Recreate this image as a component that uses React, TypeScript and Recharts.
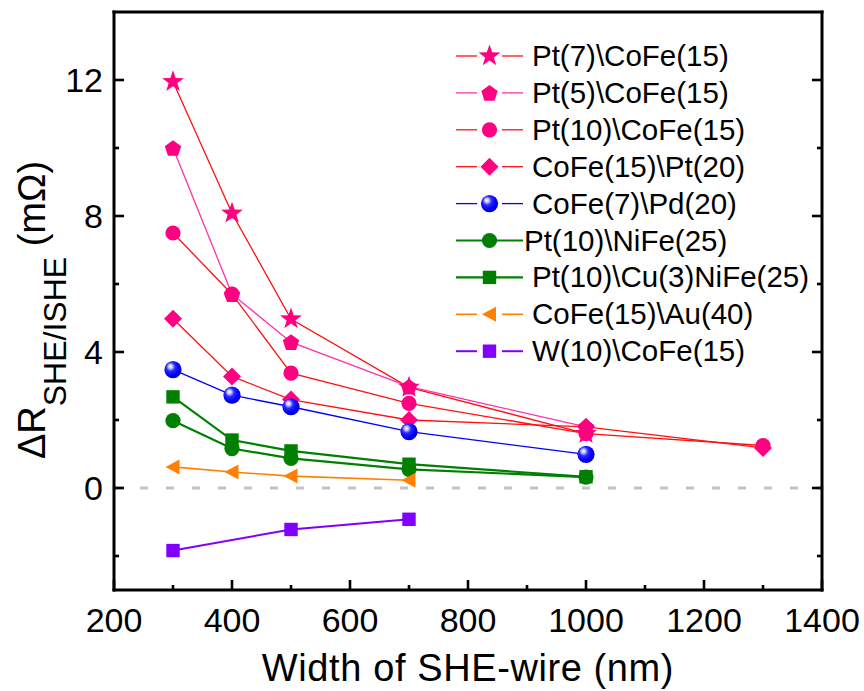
import { Line, LineChart, ReferenceLine, XAxis, YAxis } from 'recharts'

const FONT = '"Liberation Sans", Arial, sans-serif'

// widths of the SHE wire (nm)
const widths = [300, 400, 500, 700, 1000]
const widthsLong = [300, 400, 500, 700, 1000, 1300]
const widthsAu = [300, 400, 500, 700]
const widthsW = [300, 500, 700]

// ΔR values (mΩ)
const ptCoFe7 = [11.95, 8.08, 4.97, 2.96, 1.6]
const ptCoFe5 = [10.0, 5.7, 4.29, 2.98, 1.8]
const ptCoFe10 = [7.5, 5.7, 3.38, 2.49, 1.6, 1.25]
const coFePt20 = [4.98, 3.28, 2.6, 2.0, 1.8, 1.18]
const coFePd20 = [3.48, 2.73, 2.39, 1.66, 0.99]
const ptNiFe = [1.98, 1.16, 0.87, 0.55, 0.32]
const ptCuNiFe = [2.68, 1.41, 1.09, 0.7, 0.33]
const coFeAu = [0.62, 0.47, 0.35, 0.23]
const wCoFe = [-1.84, -1.22, -0.92]

const xTicks = [200, 300, 400, 500, 600, 700, 800, 900, 1000, 1100, 1200, 1300, 1400]
const yTicks = [-2, 0, 2, 4, 6, 8, 10, 12]

type Shape = 'star' | 'pentagon' | 'circle' | 'diamond' | 'sphere' | 'triangle' | 'square'

const series: Array<{
  name: string
  xs: number[]
  ys: number[]
  shape: Shape
  fill: string
  stroke: string
  width: number
}> = [
  { name: 'Pt(7)\\CoFe(15)', xs: widths, ys: ptCoFe7, shape: 'star', fill: '#ff0080', stroke: '#ff1010', width: 1.3 },
  { name: 'Pt(5)\\CoFe(15)', xs: widths, ys: ptCoFe5, shape: 'pentagon', fill: '#ff0080', stroke: '#ff30a8', width: 1.3 },
  { name: 'Pt(10)\\CoFe(15)', xs: widthsLong, ys: ptCoFe10, shape: 'circle', fill: '#ff0080', stroke: '#ff1010', width: 1.3 },
  { name: 'CoFe(15)\\Pt(20)', xs: widthsLong, ys: coFePt20, shape: 'diamond', fill: '#ff0080', stroke: '#ff1010', width: 1.3 },
  { name: 'CoFe(7)\\Pd(20)', xs: widths, ys: coFePd20, shape: 'sphere', fill: '#0000ff', stroke: '#0000ff', width: 1.3 },
  { name: 'Pt(10)\\NiFe(25)', xs: widths, ys: ptNiFe, shape: 'circle', fill: '#008000', stroke: '#008000', width: 2.2 },
  { name: 'Pt(10)\\Cu(3)NiFe(25)', xs: widths, ys: ptCuNiFe, shape: 'square', fill: '#008000', stroke: '#008000', width: 2.2 },
  { name: 'CoFe(15)\\Au(40)', xs: widthsAu, ys: coFeAu, shape: 'triangle', fill: '#ff8000', stroke: '#ff8000', width: 1.6 },
  { name: 'W(10)\\CoFe(15)', xs: widthsW, ys: wCoFe, shape: 'square', fill: '#8000ff', stroke: '#8000ff', width: 2 },
]

function polygon(cx: number, cy: number, n: number, rOuter: number, rInner?: number) {
  const pts: string[] = []
  const count = rInner ? n * 2 : n
  for (let i = 0; i < count; i++) {
    const r = rInner && i % 2 === 1 ? rInner : rOuter
    const a = -Math.PI / 2 + (i * 2 * Math.PI) / count
    pts.push(`${(cx + r * Math.cos(a)).toFixed(2)},${(cy + r * Math.sin(a)).toFixed(2)}`)
  }
  return pts.join(' ')
}

function Marker({ shape, cx, cy, fill }: { shape: Shape; cx: number; cy: number; fill: string }) {
  switch (shape) {
    case 'star':
      return <polygon points={polygon(cx, cy, 5, 11.5, 4.6)} fill={fill} />
    case 'pentagon':
      return <polygon points={polygon(cx, cy + 0.8, 5, 8.6)} fill={fill} />
    case 'circle':
      return <circle cx={cx} cy={cy} r={7.6} fill={fill} />
    case 'diamond':
      return <polygon points={`${cx},${cy - 9} ${cx + 9},${cy} ${cx},${cy + 9} ${cx - 9},${cy}`} fill={fill} />
    case 'sphere':
      return <circle cx={cx} cy={cy} r={8.6} fill="url(#blueSphere)" />
    case 'triangle':
      return <polygon points={`${cx - 7.5},${cy} ${cx + 6.5},${cy - 7.5} ${cx + 6.5},${cy + 7.5}`} fill={fill} />
    case 'square':
      return <rect x={cx - 6.7} y={cy - 6.7} width={13.4} height={13.4} fill={fill} />
  }
}

function BottomTick(p: any) {
  const major = p.payload.value % 200 === 0
  return (
    <g>
      <line x1={p.x} x2={p.x} y1={p.y} y2={p.y - (major ? 10 : 5)} stroke="#000" strokeWidth={2.6} />
      {major && (
        <text x={p.x} y={p.y + 42} textAnchor="middle" fontSize={34} fontFamily={FONT} fill="#000">
          {p.payload.value}
        </text>
      )}
    </g>
  )
}

function TopTick(p: any) {
  const major = p.payload.value % 200 === 0
  return <line x1={p.x} x2={p.x} y1={p.y} y2={p.y + (major ? 10 : 5)} stroke="#000" strokeWidth={2.6} />
}

function LeftTick(p: any) {
  const major = p.payload.value % 4 === 0
  return (
    <g>
      <line x1={p.x} x2={p.x + (major ? 10 : 5)} y1={p.y} y2={p.y} stroke="#000" strokeWidth={2.6} />
      {major && (
        <text x={p.x - 11} y={p.y + 12} textAnchor="end" fontSize={34} fontFamily={FONT} fill="#000">
          {p.payload.value}
        </text>
      )}
    </g>
  )
}

function RightTick(p: any) {
  const major = p.payload.value % 4 === 0
  return <line x1={p.x} x2={p.x - (major ? 10 : 5)} y1={p.y} y2={p.y} stroke="#000" strokeWidth={2.6} />
}

function XTitle(props: any) {
  const vb = props.viewBox
  return (
    <text
      x={vb.x + vb.width / 2}
      y={vb.y + vb.height + 90}
      textAnchor="middle"
      fontFamily={FONT}
      fontSize={38}
      letterSpacing={0.6}
      fill="#000"
    >
      Width of SHE-wire (nm)
    </text>
  )
}

function YTitle(props: any) {
  const vb = props.viewBox
  const x = vb.x + vb.width - 69
  const y = vb.y + vb.height / 2 + 9
  return (
    <text x={x} y={y} transform={`rotate(-90, ${x}, ${y})`} textAnchor="middle" fontFamily={FONT} fontSize={38} fill="#000">
      ΔR
      <tspan fontSize={32} dy={21}>SHE/ISHE</tspan>
      <tspan dy={-21}>{'\u00a0(mΩ)'}</tspan>
    </text>
  )
}

const axisLine = { stroke: '#000', strokeWidth: 3, strokeLinecap: 'square' as const }

export default function App() {
  return (
    <div style={{ position: 'absolute', left: 0, top: 0, width: 864, height: 691, background: '#fff' }}>
      <LineChart width={864} height={691} margin={{ top: 11, right: 41, bottom: 100, left: 113 }}>
        <XAxis
          xAxisId={0}
          dataKey="x"
          type="number"
          domain={[200, 1400]}
          ticks={xTicks}
          interval={0}
          height={1}
          tickSize={0}
          tickMargin={0}
          tickLine={false}
          axisLine={axisLine}
          tick={BottomTick}
          allowDataOverflow
          label={{ content: XTitle }}
        />
        <XAxis
          xAxisId="top"
          orientation="top"
          type="number"
          domain={[200, 1400]}
          ticks={xTicks}
          interval={0}
          height={1}
          tickSize={0}
          tickMargin={0}
          tickLine={false}
          axisLine={axisLine}
          tick={TopTick}
          allowDataOverflow
        />
        <YAxis
          yAxisId={0}
          type="number"
          domain={[-3, 14]}
          ticks={yTicks}
          interval={0}
          width={1}
          tickSize={0}
          tickMargin={0}
          tickLine={false}
          axisLine={axisLine}
          tick={LeftTick}
          allowDataOverflow
          label={{ content: YTitle }}
        />
        <YAxis
          yAxisId="right"
          orientation="right"
          type="number"
          domain={[-3, 14]}
          ticks={yTicks}
          interval={0}
          width={1}
          tickSize={0}
          tickMargin={0}
          tickLine={false}
          axisLine={axisLine}
          tick={RightTick}
          allowDataOverflow
        />
        <ReferenceLine y={0} stroke="#c4c4c4" strokeWidth={3} strokeDasharray="8 18" />
        {series.map((s) => (
          <Line
            key={s.name}
            data={s.xs.map((x, i) => ({ x, y: s.ys[i] }))}
            dataKey="y"
            type="linear"
            stroke={s.stroke}
            strokeWidth={s.width}
            isAnimationActive={false}
            dot={(p: any) => <Marker key={`${s.name}-${p.index}`} shape={s.shape} cx={p.cx} cy={p.cy} fill={s.fill} />}
            activeDot={false}
          />
        ))}
      </LineChart>
      <svg width={864} height={691} style={{ position: 'absolute', left: 0, top: 0, pointerEvents: 'none' }}>
        <defs>
          <radialGradient id="blueSphere" cx="0.4" cy="0.38" r="0.62" fx="0.34" fy="0.3">
            <stop offset="0" stopColor="#ffffff" />
            <stop offset="0.18" stopColor="#c8c8ff" />
            <stop offset="0.42" stopColor="#2a2aff" />
            <stop offset="0.75" stopColor="#0000ff" />
            <stop offset="1" stopColor="#0000c8" />
          </radialGradient>
        </defs>
        {series.map((s, i) => {
          const cy = 56 + i * 36.9
          const solid = s.width > 2
          return (
            <g key={s.name}>
              {solid ? (
                <line x1={456} x2={523} y1={cy} y2={cy} stroke={s.stroke} strokeWidth={s.width} />
              ) : (
                <>
                  <line x1={456} x2={477} y1={cy} y2={cy} stroke={s.stroke} strokeWidth={s.width} />
                  <line x1={502} x2={523} y1={cy} y2={cy} stroke={s.stroke} strokeWidth={s.width} />
                </>
              )}
              <Marker shape={s.shape} cx={489.5} cy={cy} fill={s.fill} />
              <text
                x={s.name === 'Pt(10)\\NiFe(25)' ? 524 : 532}
                y={cy + 10}
                fontSize={29.5}
                fontFamily={FONT}
                fill="#000"
              >
                {s.name}
              </text>
            </g>
          )
        })}
      </svg>
    </div>
  )
}
